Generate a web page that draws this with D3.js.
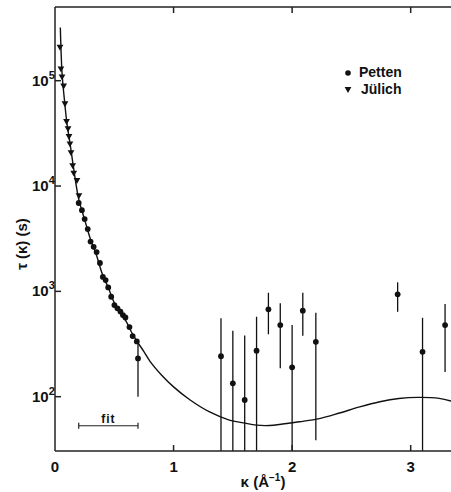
<!DOCTYPE html>
<html>
<head>
<meta charset="utf-8">
<script src="https://cdn.jsdelivr.net/npm/d3@7"></script>
<style>
  body { margin: 0; background: #fff; }
  text { font-family: "Liberation Sans", Arial, sans-serif; font-weight: bold; fill: #111; }
</style>
</head>
<body>
<div id="chart"></div>
<script>
// Jülich (triangles)
const julichK   = [0.042, 0.050, 0.059, 0.073, 0.084, 0.097, 0.110, 0.118, 0.126, 0.135, 0.149, 0.158, 0.185, 0.202];
const julichTau = [2.1e5, 1.31e5, 1.1e5, 9.0e4, 6.1e4, 4.14e4, 3.53e4, 2.98e4, 2.54e4, 2.1e4, 1.58e4, 1.34e4, 1.14e4, 8.2e3];

// Petten (dots), low kappa, no error bars
const pettenK   = [0.200, 0.227, 0.250, 0.276, 0.300, 0.326, 0.351, 0.379, 0.404, 0.427, 0.449, 0.474, 0.501, 0.527, 0.552, 0.573, 0.594, 0.628, 0.655, 0.690];
const pettenTau = [6900, 5900, 4860, 3900, 2970, 2650, 2360, 1860, 1370, 1280, 1090, 889, 741, 690, 643, 596, 566, 458, 376, 335];

// Petten (dots) with error bars
const errK   = [0.70, 1.40, 1.50, 1.60, 1.70, 1.80, 1.90, 2.00, 2.09, 2.20, 2.89, 3.10, 3.29];
const errTau = [231, 242, 134, 93, 273, 675, 479, 190, 655, 332, 937, 267, 479];
const errHi  = [345, 555, 423, 382, 574, 970, 770, 479, 970, 626, 1219, 561, 757];
const errLo  = [100, 30, 30, 30, 30, 391, 186, 30, 379, 38.7, 640, 30, 172];

// fitted curve
const fitK   = [0.045, 0.06, 0.08, 0.10, 0.13, 0.16, 0.20, 0.25, 0.30, 0.35, 0.40, 0.45, 0.50, 0.55, 0.60, 0.65, 0.70, 0.75, 0.80, 0.90, 1.00, 1.14, 1.30, 1.47, 1.59, 1.70, 1.81, 1.92, 2.06, 2.23, 2.40, 2.57, 2.74, 2.90, 3.06, 3.24, 3.34];
const fitTau = [3.2e5, 1.15e5, 6.5e4, 4.0e4, 2.4e4, 1.4e4, 7.5e3, 4.8e3, 3.1e3, 2.2e3, 1.45e3, 1.08e3, 780, 620, 520, 400, 325, 268, 218, 160, 124, 93, 72, 60, 56.5, 53.7, 53.3, 55, 57.8, 62, 70, 80, 89.5, 96, 98.5, 96.5, 91];

const xTicks = [0, 1, 2, 3];
const yTicks = [2, 3, 4, 5];   // exponents of 10
const fitRange = [0.2, 0.7];
const fitLevel = 53;

const width = 451, height = 492;
const margin = { top: 7, right: 0, bottom: 41, left: 55 };

const svg = d3.select("#chart").append("svg")
  .attr("width", width)
  .attr("height", height);

const x = d3.scaleLinear()
  .domain([0, 3.34])
  .range([margin.left, width - margin.right]);

const y = d3.scaleLog()
  .domain([Math.pow(10, 1.4845), Math.pow(10, 5.6997)])
  .range([height - margin.bottom, margin.top]);

svg.append("clipPath").attr("id", "clip")
  .append("rect")
  .attr("x", margin.left).attr("y", margin.top)
  .attr("width", width - margin.left - margin.right)
  .attr("height", height - margin.top - margin.bottom);

const plot = svg.append("g").attr("clip-path", "url(#clip)");

// frame
const frame = svg.append("g").attr("stroke", "#222").attr("stroke-width", 1.5).attr("fill", "none");
frame.append("line").attr("x1", x(0)).attr("x2", x(0)).attr("y1", y.range()[1]).attr("y2", y.range()[0]);
frame.append("line").attr("x1", x(0)).attr("x2", width).attr("y1", y.range()[0]).attr("y2", y.range()[0]);
frame.append("line").attr("x1", x(0)).attr("x2", width).attr("y1", y.range()[1]).attr("y2", y.range()[1]);

// ticks (inward)
frame.selectAll(".xtb").data(xTicks.filter(d => d > 0)).join("line")
  .attr("x1", d => x(d)).attr("x2", d => x(d))
  .attr("y1", y.range()[0]).attr("y2", y.range()[0] - 6);
frame.selectAll(".xtt").data(xTicks.filter(d => d > 0)).join("line")
  .attr("class", "xtt")
  .attr("x1", d => x(d)).attr("x2", d => x(d))
  .attr("y1", y.range()[1]).attr("y2", y.range()[1] + 6);
frame.selectAll(".yt").data(yTicks).join("line")
  .attr("class", "yt")
  .attr("x1", x(0)).attr("x2", x(0) + 6)
  .attr("y1", d => y(Math.pow(10, d))).attr("y2", d => y(Math.pow(10, d)));

// tick labels
svg.append("g").selectAll("text").data(xTicks).join("text")
  .attr("x", d => x(d))
  .attr("y", y.range()[0] + 21)
  .attr("text-anchor", "middle")
  .attr("font-size", 15)
  .text(d => d);

const yl = svg.append("g").selectAll("text").data(yTicks).join("text")
  .attr("x", x(0) - 23)
  .attr("y", d => y(Math.pow(10, d)) + 5)
  .attr("text-anchor", "start")
  .attr("font-size", 15);
yl.append("tspan").text("10");
yl.append("tspan").attr("dy", -7).attr("font-size", 11).text(d => d);

// axis titles
const xt = svg.append("text")
  .attr("x", 263).attr("y", 487)
  .attr("text-anchor", "middle")
  .attr("font-size", 15);
xt.append("tspan").text("κ (Å");
xt.append("tspan").attr("dy", -6).attr("font-size", 10).text("−1");
xt.append("tspan").attr("dy", 6).text(")");

svg.append("text")
  .attr("transform", "translate(27,244) rotate(-90)")
  .attr("text-anchor", "middle")
  .attr("font-size", 15)
  .text("τ (κ) (s)");

// fitted curve
const line = d3.line()
  .x((d, i) => x(fitK[i]))
  .y(d => y(d))
  .curve(d3.curveCatmullRom);

plot.append("path")
  .datum(fitTau)
  .attr("fill", "none")
  .attr("stroke", "#111")
  .attr("stroke-width", 1.4)
  .attr("d", line);

// error bars
plot.append("g").selectAll("line").data(errK).join("line")
  .attr("x1", d => x(d)).attr("x2", d => x(d))
  .attr("y1", (d, i) => y(errHi[i]))
  .attr("y2", (d, i) => y(Math.max(errLo[i], y.domain()[0] * 0.8)))
  .attr("stroke", "#111")
  .attr("stroke-width", 1.3);

// Petten dots
plot.append("g").selectAll("circle").data(pettenK.concat(errK)).join("circle")
  .attr("cx", d => x(d))
  .attr("cy", (d, i) => y(pettenTau.concat(errTau)[i]))
  .attr("r", 2.9)
  .attr("fill", "#111");

// Jülich triangles
const tri = d3.symbol().type(d3.symbolTriangle).size(20);
plot.append("g").selectAll("path").data(julichK).join("path")
  .attr("transform", (d, i) => `translate(${x(d)},${y(julichTau[i])}) rotate(180)`)
  .attr("d", tri)
  .attr("fill", "#111");

// fit range marker
const fy = y(fitLevel);
const fitG = svg.append("g").attr("stroke", "#222").attr("stroke-width", 1.2);
fitG.append("line").attr("x1", x(fitRange[0])).attr("x2", x(fitRange[1])).attr("y1", fy).attr("y2", fy);
fitG.selectAll(".cap").data(fitRange).join("line")
  .attr("class", "cap")
  .attr("x1", d => x(d)).attr("x2", d => x(d))
  .attr("y1", fy - 3).attr("y2", fy + 3);
svg.append("text")
  .attr("x", (x(fitRange[0]) + x(fitRange[1])) / 2)
  .attr("y", fy - 3)
  .attr("text-anchor", "middle")
  .attr("font-size", 12)
  .attr("letter-spacing", 1)
  .text("fit");

// legend
const legend = svg.append("g");
legend.append("circle").attr("cx", 348).attr("cy", 73).attr("r", 2.8).attr("fill", "#111");
legend.append("text").attr("x", 359).attr("y", 77).attr("font-size", 14).text("Petten");
legend.append("path").attr("transform", "translate(348,89) rotate(180)").attr("d", tri).attr("fill", "#111");
legend.append("text").attr("x", 361).attr("y", 94).attr("font-size", 14).text("Jülich");
</script>
</body>
</html>
